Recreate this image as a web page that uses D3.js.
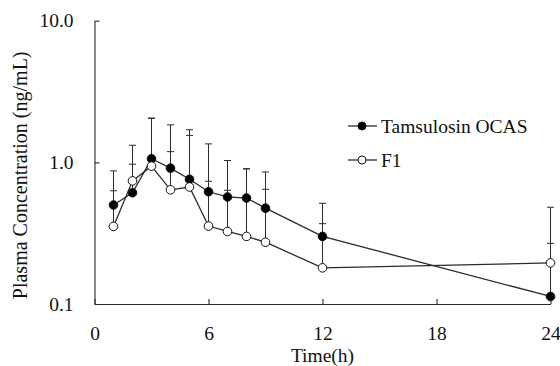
<!DOCTYPE html>
<html>
<head>
<meta charset="utf-8">
<script src="https://cdn.jsdelivr.net/npm/d3@7"></script>
<style>
  html, body { margin: 0; padding: 0; background: #fff; }
  svg { display: block; }
  text { font-family: "Liberation Serif", "Times New Roman", serif; fill: #111; }
</style>
</head>
<body>
<svg id="chart" width="560" height="366"></svg>
<script>
// ---- Data ----
const timeH = [1, 2, 3, 4, 5, 6, 7, 8, 9, 12, 24];
const ocasMean = [0.50, 0.61, 1.06, 0.91, 0.76, 0.62, 0.57, 0.56, 0.475, 0.30, 0.113];
const ocasSD   = [0.37, 0.71, 0.99, 0.93, 0.94, 0.73, 0.46, 0.34, 0.38, 0.214, 0.369];
const f1Mean   = [0.353, 0.74, 0.94, 0.64, 0.67, 0.355, 0.325, 0.30, 0.273, 0.18, 0.195];
const f1SD     = [0.277, 0.23, 1.11, 0.55, 0.88, 0.38, 0.31, 0.60, 0.372, 0.189, 0.073];
const seriesNames = ["Tamsulosin OCAS", "F1"];
const xTicks = [0, 6, 12, 18, 24];
const yTicks = [0.1, 1, 10];
const yTickLabels = ["0.1", "1.0", "10.0"];
const xTitle = "Time(h)";
const yTitle = "Plasma Concentration (ng/mL)";

const svg = d3.select("#chart");
const ink = "#2b2b2b";
const fs = 19.5;
const serif = '"Liberation Serif", "Times New Roman", serif';

const x = d3.scaleLinear().domain([0, 24]).range([94.5, 550.5]);
const y = d3.scaleLog().domain([0.1, 10]).range([304, 20.7]);

// Axes
const gx = svg.append("g").attr("transform", `translate(0,${y(0.1)})`)
  .call(d3.axisBottom(x).tickValues(xTicks).tickSizeInner(-5).tickSizeOuter(0).tickPadding(22));
const gy = svg.append("g").attr("transform", `translate(${x(0)},0)`)
  .call(d3.axisLeft(y).tickValues(yTicks).tickSizeInner(-5).tickSizeOuter(0).tickPadding(21)
    .tickFormat((d, i) => yTickLabels[i]));
[gx, gy].forEach(g => {
  g.attr("font-family", null).attr("font-size", null);
  g.selectAll("path, line").attr("stroke", ink).attr("stroke-width", 1.1);
  g.selectAll("text").attr("fill", "#111").style("font-size", fs + "px").style("font-family", serif);
});

// Axis titles
svg.append("text").attr("x", (x(0) + x(24)) / 2).attr("y", 361.5)
  .attr("text-anchor", "middle").style("font-size", fs + "px").style("font-family", serif).text(xTitle);
svg.append("text").attr("transform", `translate(27,${(y(0.1) + y(10)) / 2 + 13}) rotate(-90)`)
  .attr("text-anchor", "middle").style("font-size", "20px").style("font-family", serif).text(yTitle);

const series = [
  { name: seriesNames[0], mean: ocasMean, sd: ocasSD, fill: "#000" },
  { name: seriesNames[1], mean: f1Mean, sd: f1SD, fill: "#fff" }
];

const capW = 3.5;
// Error bars (upper SD)
series.forEach(s => {
  const g = svg.append("g").attr("stroke", ink).attr("stroke-width", 1);
  timeH.forEach((t, i) => {
    const top = y(s.mean[i] + s.sd[i]);
    g.append("line").attr("x1", x(t)).attr("x2", x(t)).attr("y1", y(s.mean[i])).attr("y2", top);
    g.append("line").attr("x1", x(t) - capW).attr("x2", x(t) + capW).attr("y1", top).attr("y2", top);
  });
});

// Lines
const line = d3.line().x(d => x(d[0])).y(d => y(d[1]));
series.forEach(s => {
  svg.append("path").datum(timeH.map((t, i) => [t, s.mean[i]]))
    .attr("d", line).attr("fill", "none").attr("stroke", ink).attr("stroke-width", 1.3);
});

// Markers
series.forEach(s => {
  svg.append("g").selectAll("circle").data(timeH.map((t, i) => [t, s.mean[i]])).join("circle")
    .attr("cx", d => x(d[0])).attr("cy", d => y(d[1])).attr("r", 4.3)
    .attr("fill", s.fill).attr("stroke", "#111").attr("stroke-width", 1);
});

// Legend
series.forEach((s, i) => {
  const ly = 126 + i * 34;
  const g = svg.append("g");
  g.append("line").attr("x1", 348).attr("x2", 377).attr("y1", ly).attr("y2", ly)
    .attr("stroke", ink).attr("stroke-width", 1.3);
  g.append("circle").attr("cx", 362).attr("cy", ly).attr("r", 4)
    .attr("fill", s.fill).attr("stroke", "#111").attr("stroke-width", 1);
  g.append("text").attr("x", 381).attr("y", ly + 6.5).style("font-size", fs + "px")
    .style("font-family", serif).text(s.name);
});
</script>
</body>
</html>
